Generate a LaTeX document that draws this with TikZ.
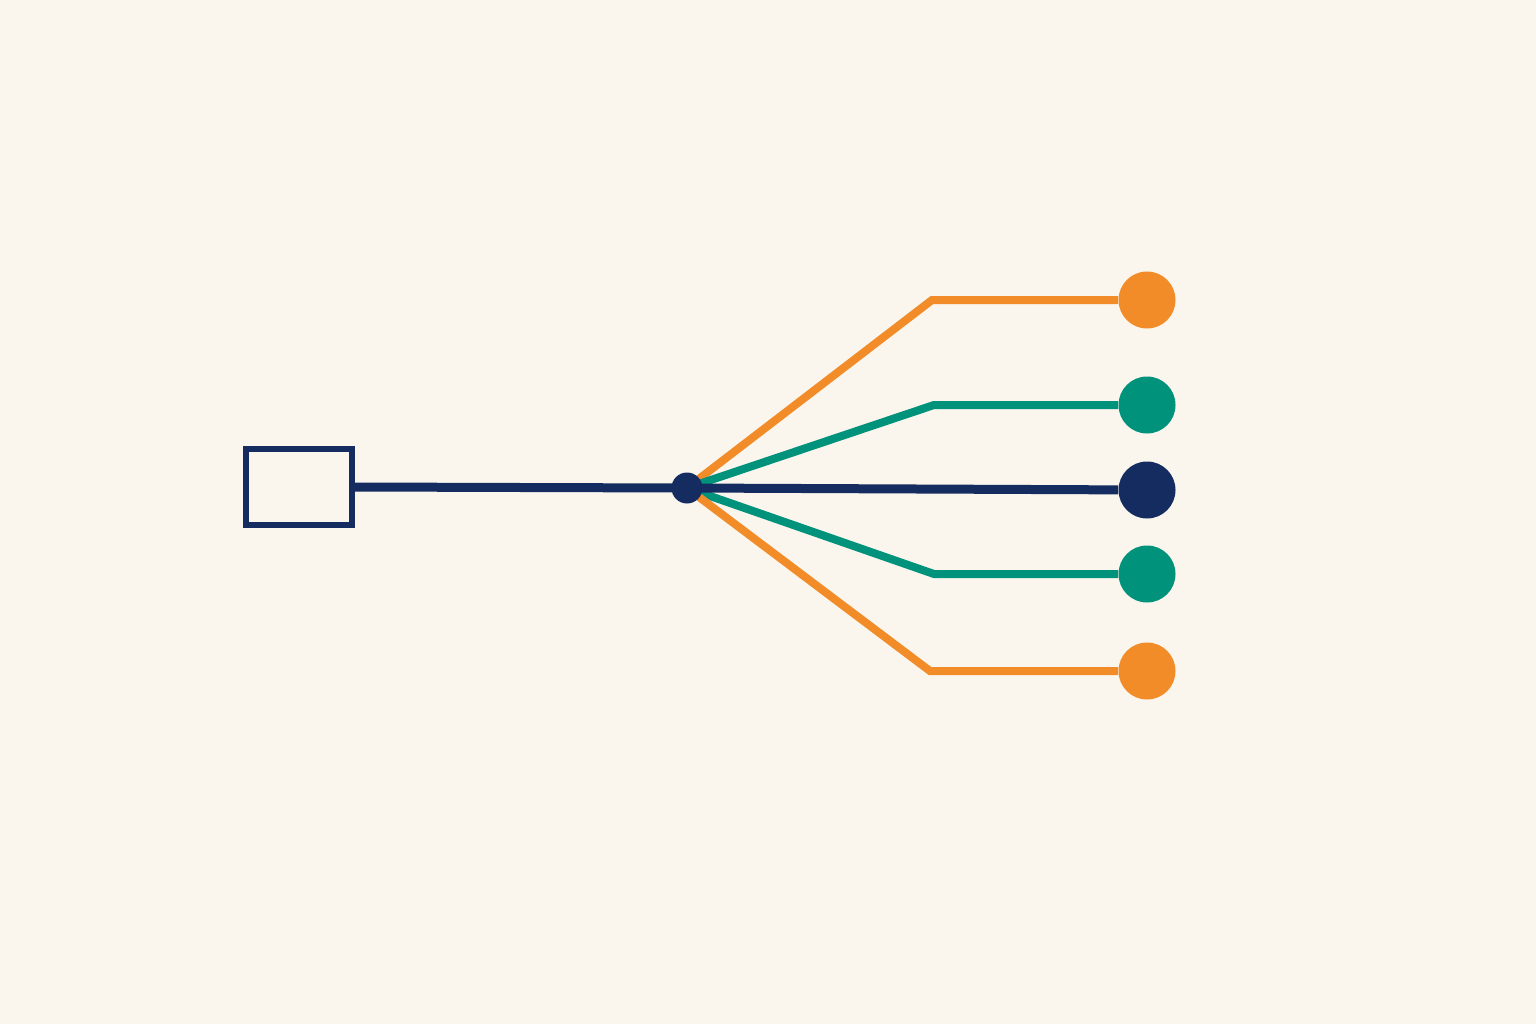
\documentclass[tikz,border=0pt]{standalone}
\usepackage{tikz}
\definecolor{bgcream}{HTML}{FAF6EE}
\definecolor{navy}{HTML}{142C5F}
\definecolor{tangerine}{HTML}{F28C28}
\definecolor{teal}{HTML}{00927A}
\tikzset{
	source/.style={draw=navy, line width=0.12cm, minimum width=2.12cm, minimum height=1.52cm, inner sep=0pt},
	hub/.style={circle, fill=navy, minimum size=0.62cm, inner sep=0pt},
	leaf/.style={circle, fill=#1, minimum size=1.14cm, inner sep=0pt},
	kink/.style={coordinate},
	wire/.style={line width=0.16cm, draw=#1}
}
\begin{document}
\begin{tikzpicture}
			\fill[bgcream] (0,0) rectangle (30.72,20.48);
			\useasboundingbox (0,0) rectangle (30.72,20.48);
%		    \draw[help lines] (0,0) grid (30,20);
			\node[source] (box) at (5.98,10.74) {};
			\coordinate (junction) at (13.74,10.72);
			\node[kink] (kink1) at (18.64,14.48) {};
			\node[kink] (kink2) at (18.68,12.38) {};
			\node[kink] (kink4) at (18.68,9.00) {};
			\node[kink] (kink5) at (18.60,7.06) {};
			\node[leaf=tangerine] (end1) at (22.94,14.48) {};
			\node[leaf=teal] (end2) at (22.94,12.38) {};
			\node[leaf=navy] (end3) at (22.94,10.68) {};
			\node[leaf=teal] (end4) at (22.94,9.00) {};
			\node[leaf=tangerine] (end5) at (22.94,7.06) {};
			\draw[wire=tangerine] (junction) -- (kink1) -- (end1);
			\draw[wire=teal] (junction) -- (kink2) -- (end2);
			\draw[wire=teal] (junction) -- (kink4) -- (end4);
			\draw[wire=tangerine] (junction) -- (kink5) -- (end5);
			\draw[wire=navy, line width=0.18cm] (box.east) -- (junction) -- (end3);
			\node[hub] (hub) at (junction) {};
		\end{tikzpicture}
\end{document}
